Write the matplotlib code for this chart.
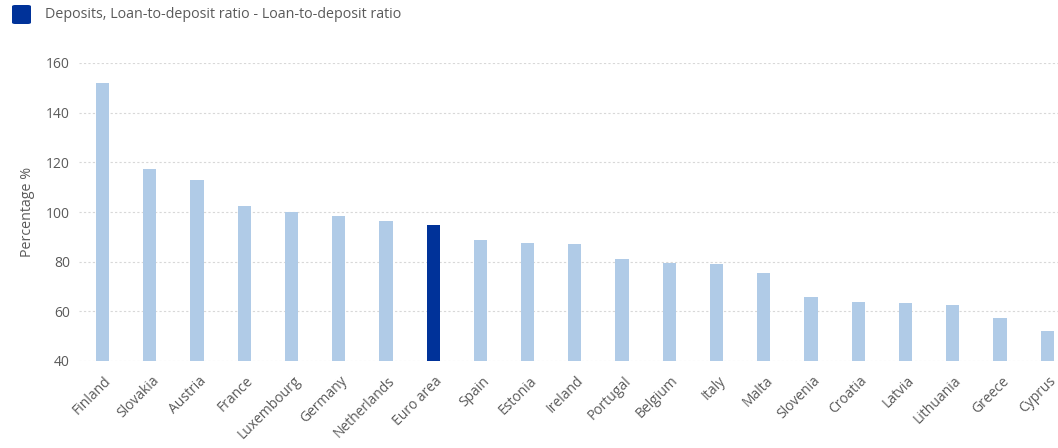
import matplotlib
matplotlib.use("Agg")
import matplotlib.pyplot as plt
import matplotlib.transforms as mtransforms
from matplotlib.patches import FancyBboxPatch

countries = ["Finland", "Slovakia", "Austria", "France", "Luxembourg", "Germany",
             "Netherlands", "Euro area", "Spain", "Estonia", "Ireland", "Portugal",
             "Belgium", "Italy", "Malta", "Slovenia", "Croatia", "Latvia",
             "Lithuania", "Greece", "Cyprus"]
ratios = [152.0, 117.2, 112.9, 102.5, 100.0, 98.4, 96.5, 94.6, 88.8, 87.6, 87.0,
          81.1, 79.5, 79.0, 75.4, 65.8, 63.7, 63.5, 62.4, 57.4, 52.1]
yticks = [40, 60, 80, 100, 120, 140, 160]
legend_label = "Deposits, Loan-to-deposit ratio - Loan-to-deposit ratio"
ylabel = "Percentage %"

light = "#b0cbe7"
dark = "#003299"
txt = "#5a5a5a"

plt.rcParams['font.family'] = ['Open Sans', 'DejaVu Sans']

fig = plt.figure(figsize=(10.58, 4.48), dpi=100)
ax = fig.add_axes([79/1058, 1 - 361/448, (1058 - 79)/1058, (361 - 63)/448])

colors = [dark if c == "Euro area" else light for c in countries]
x = list(range(len(countries)))
ax.bar(x, [r - 40 for r in ratios], bottom=40, width=0.28, color=colors, zorder=3)

ax.set_ylim(40, 160)
ax.set_xlim(-0.5, 20.23)
ax.set_yticks(yticks)
ax.set_yticklabels([str(t) for t in yticks], color=txt, fontsize=10)
ax.set_xticks(x)
ax.set_xticklabels(countries, rotation=45, ha='right', va='top',
                   rotation_mode='anchor', color=txt, fontsize=10)
ax.tick_params(axis='both', length=0)
ax.tick_params(axis='y', pad=6.5)
ax.tick_params(axis='x', pad=9)
offset = mtransforms.ScaledTranslation(1.0/72, 0, fig.dpi_scale_trans)
for t in ax.get_xticklabels():
    t.set_transform(t.get_transform() + offset)

for s in ax.spines.values():
    s.set_visible(False)
ax.grid(axis='y', color='#d8d8d8', linestyle=(0, (2, 2)), linewidth=0.8, zorder=0)
ax.set_axisbelow(True)

ax.set_ylabel(ylabel, color=txt, fontsize=10.3, labelpad=8)

# legend
sq = FancyBboxPatch((12/1058, 1 - 24/448), 19/1058, 19/448,
                    boxstyle="round,pad=0,rounding_size=0.003",
                    transform=fig.transFigure, facecolor=dark, edgecolor='none')
fig.patches.append(sq)
fig.text(45/1058, 1 - 15/448, legend_label, color=txt, fontsize=10.3,
         va='center', ha='left')

fig.savefig("out.png", dpi=100)
